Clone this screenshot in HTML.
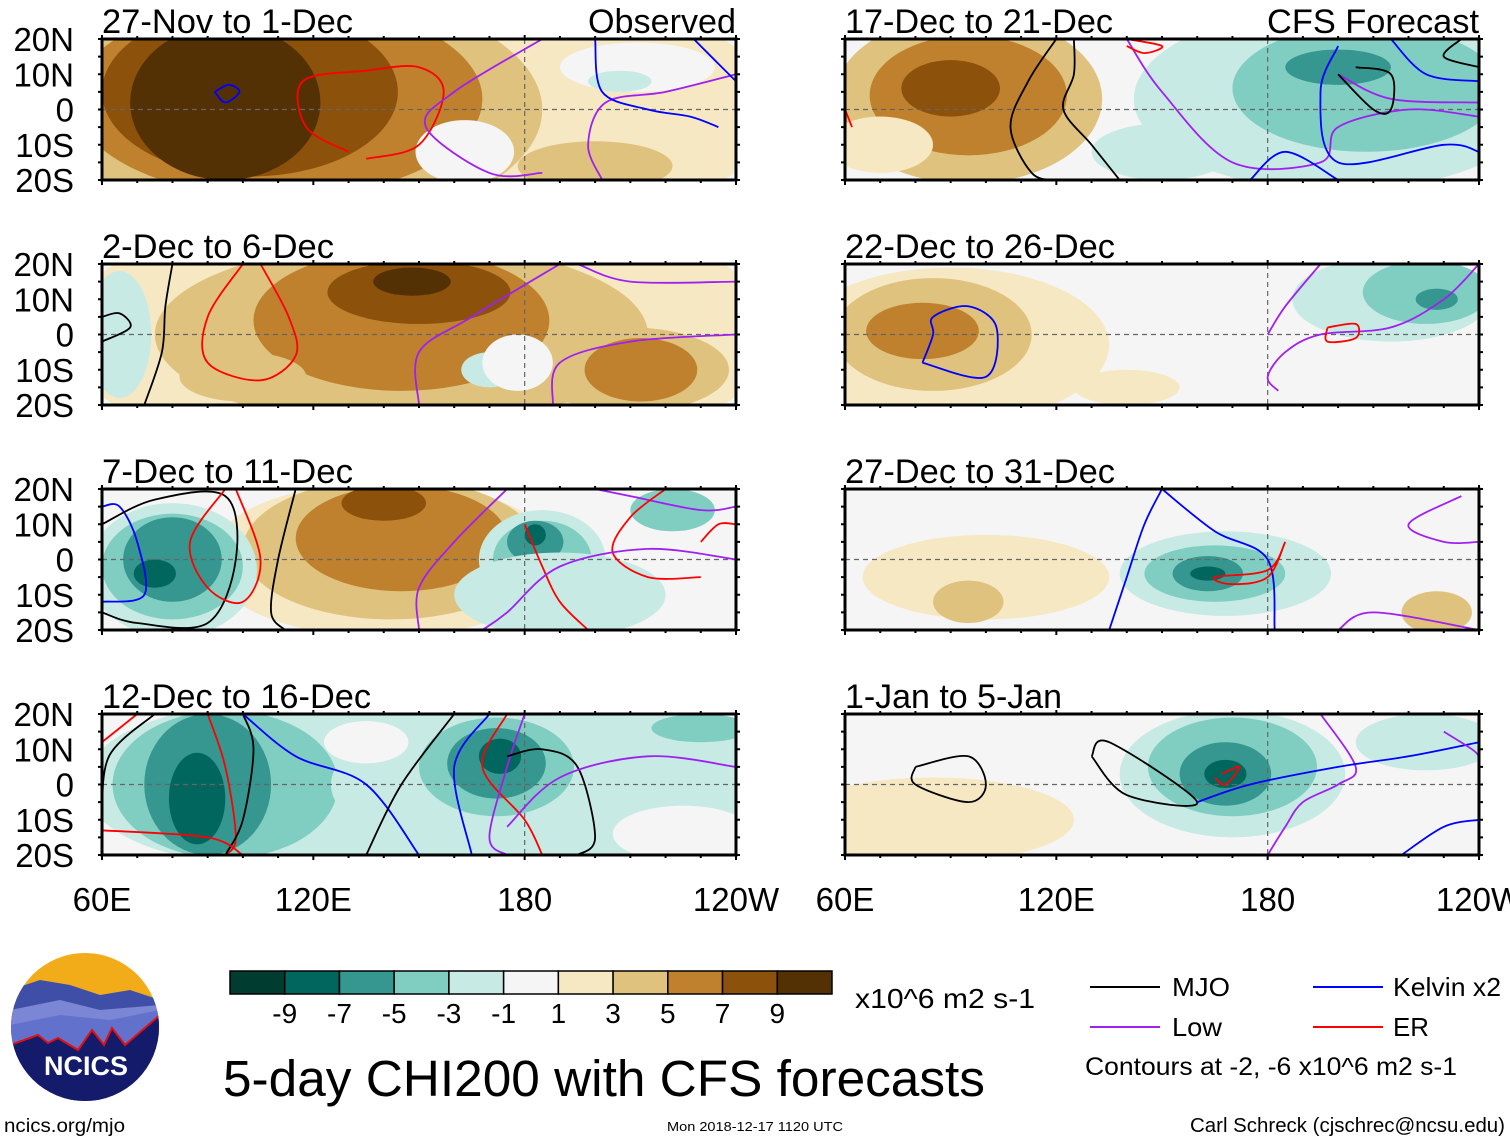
<!DOCTYPE html>
<html><head><meta charset="utf-8"><style>
html,body{margin:0;padding:0;background:#fff;}
svg{display:block;font-family:"Liberation Sans",Arial,sans-serif;}
</style></head><body>
<svg id="chart" width="1510" height="1142" viewBox="0 0 1510 1142" xmlns="http://www.w3.org/2000/svg">
<defs id="defs"></defs>
<g id="panels"></g>
<g id="colorbar"></g>
<text x="855" y="1008" font-size="28" textLength="180" lengthAdjust="spacingAndGlyphs">x10^6 m2 s-1</text>
<text x="223" y="1096" font-size="51" textLength="762" lengthAdjust="spacingAndGlyphs">5-day CHI200 with CFS forecasts</text>
<g>
<line x1="1090" y1="987" x2="1160" y2="987" stroke="#000" stroke-width="2"/>
<text x="1172" y="996" font-size="26" textLength="58" lengthAdjust="spacingAndGlyphs">MJO</text>
<line x1="1090" y1="1027" x2="1160" y2="1027" stroke="#a020f0" stroke-width="2"/>
<text x="1172" y="1036" font-size="26" textLength="50" lengthAdjust="spacingAndGlyphs">Low</text>
<line x1="1313" y1="987" x2="1383" y2="987" stroke="#0000ff" stroke-width="2"/>
<text x="1393" y="996" font-size="26" textLength="108" lengthAdjust="spacingAndGlyphs">Kelvin x2</text>
<line x1="1313" y1="1027" x2="1383" y2="1027" stroke="#ff0000" stroke-width="2"/>
<text x="1393" y="1036" font-size="26" textLength="36" lengthAdjust="spacingAndGlyphs">ER</text>
<text x="1085" y="1075" font-size="25" textLength="372" lengthAdjust="spacingAndGlyphs">Contours at -2, -6 x10^6 m2 s-1</text>
</g>
<g>
<clipPath id="logoclip"><circle cx="85" cy="1027" r="74"/></clipPath>
<g clip-path="url(#logoclip)">
<rect x="0" y="950" width="170" height="160" fill="#f2ac1a"/>
<path d="M10 990 L40 980 L70 985 L100 995 L130 990 L160 1000 L160 1110 L10 1110Z" fill="#3f4fa8"/>
<path d="M10 1010 L60 1000 L100 1010 L160 1005 L160 1110 L10 1110Z" fill="#7b86d4"/>
<path d="M10 1025 L60 1015 L110 1020 L160 1010 L160 1110 L10 1110Z" fill="#6272cc"/>
<path d="M10 1045 L38 1035 L48 1043 L58 1038 L78 1050 L92 1030 L104 1045 L112 1028 L125 1045 L160 1015 L160 1110 L10 1110Z" fill="#141b6b" stroke="#e01010" stroke-width="2"/>
</g>
<text x="86" y="1075" font-size="27" font-weight="bold" fill="#fff" text-anchor="middle">NCICS</text>
</g>
<text x="4" y="1132" font-size="19" textLength="121" lengthAdjust="spacingAndGlyphs">ncics.org/mjo</text>
<text x="667" y="1131" font-size="13" textLength="176" lengthAdjust="spacingAndGlyphs">Mon 2018-12-17 1120 UTC</text>
<text x="1190" y="1132" font-size="20" textLength="315" lengthAdjust="spacingAndGlyphs">Carl Schreck (cjschrec@ncsu.edu)</text>
</svg>
<script>
// ---------- data ----------
const levelColors = ["#003c30","#01665e","#35978f","#80cdc1","#c7eae5","#f5f5f5","#f6e8c3","#dfc27d","#bf812d","#8c510a","#543005"];
const levelLabels = ["-9","-7","-5","-3","-1","1","3","5","7","9"];
const panelTitles = ["27-Nov to 1-Dec","2-Dec to 6-Dec","7-Dec to 11-Dec","12-Dec to 16-Dec","17-Dec to 21-Dec","22-Dec to 26-Dec","27-Dec to 31-Dec","1-Jan to 5-Jan"];
const titleWidths = [251,232,251,269,268,270,270,217];
const latTicks = [20,10,0,-10,-20];
const latLabels = ["20N","10N","0","10S","20S"];
const lonTicks = [60,120,180,240];
const lonLabels = ["60E","120E","180","120W"];
// blobs: [lon, lat, halfWidthDeg, halfHeightDeg, level]
const blobs0 = [[150,0,100,40,6],[110,0,75,35,7],[110,3,58,28,8],[102,5,42,24,9],[95,2,27,22,10],[200,-16,22,7,7],[163,-12,14,9,5],[212,12,22,7,5],[207,8,9,3,4]];
const blobs1 = [[150,0,100,40,6],[145,0,70,26,7],[210,-10,28,12,7],[213,-10,16,9,8],[145,4,42,20,8],[150,12,26,9,9],[148,15,11,4,10],[65,0,9,18,4],[170,-10,8,5,4],[178,-8,10,8,5],[100,-12,18,7,7]];
const blobs2 = [[150,0,100,40,5],[140,0,50,22,6],[142,3,42,20,7],[145,6,30,15,8],[140,16,12,5,9],[80,-3,24,19,4],[80,-2,20,15,3],[80,0,14,12,2],[75,-4,6,4,1],[185,0,18,14,4],[185,0,14,11,3],[183,5,8,6,2],[183,7,3,3,1],[195,-15,14,6,3],[222,14,12,6,3],[190,-10,30,12,4]];
const blobs3 = [[150,0,100,40,5],[150,0,95,28,4],[100,0,45,22,4],[95,0,32,21,3],[90,0,18,20,2],[87,-4,8,13,1],[170,0,45,20,4],[172,5,22,14,3],[172,6,14,10,2],[173,8,6,5,1],[220,12,28,8,4],[230,16,14,4,3],[135,12,12,6,5],[225,-14,20,8,5]];
const blobs4 = [[150,0,100,40,5],[200,3,58,26,4],[208,6,38,18,3],[200,12,15,5,2],[95,3,38,24,7],[95,4,28,17,8],[90,6,14,8,9],[70,-10,15,8,6],[150,-12,20,8,4]];
const blobs5 = [[150,0,100,40,5],[90,-3,45,22,6],[85,0,28,16,7],[82,1,16,8,8],[215,10,28,12,4],[225,12,18,9,3],[228,10,6,3,2],[140,-15,15,5,6]];
const blobs6 = [[150,0,100,40,5],[100,-5,35,12,6],[168,-4,30,12,4],[165,-4,20,8,3],[163,-4,10,5,2],[163,-4,5,2,1],[228,-15,10,6,7],[95,-12,10,6,7]];
const blobs7 = [[150,0,100,40,5],[85,-10,40,12,6],[170,3,32,18,4],[170,5,24,14,3],[168,3,13,9,2],[168,3,6,4,1],[225,12,20,8,4]];
const allBlobs = [blobs0,blobs1,blobs2,blobs3,blobs4,blobs5,blobs6,blobs7];
// contour lines: [type, [[lon,lat],...]]
const lines0 = [["er",[[130,-12],[118,-5],[117,8],[135,11],[150,12],[157,5],[150,-10],[135,-14]]],["kelvin",[[92,5],[96,7],[99,5],[95,2],[92,5]]],["low",[[185,20],[160,5],[152,-5],[170,-18],[185,-18]]],["low",[[240,10],[220,5],[203,2],[198,-10],[202,-20]]],["kelvin",[[200,20],[202,5],[215,0],[227,-2],[235,-5]]],["kelvin",[[228,20],[236,12],[240,8]]]];
const lines1 = [["mjo",[[80,20],[78,8],[77,-5],[72,-20]]],["mjo",[[60,5],[65,6],[68,2],[60,-2]]],["er",[[100,20],[90,5],[90,-8],[105,-13],[115,-6],[113,5],[105,20]]],["low",[[240,15],[210,15],[195,20]]],["low",[[150,-20],[150,-5],[165,5],[190,20]]],["low",[[240,0],[210,-2],[190,-8],[188,-20]]]];
const lines2 = [["kelvin",[[60,15],[65,15],[70,5],[72,-10],[60,-12]]],["mjo",[[60,10],[75,17],[95,18],[98,0],[90,-18],[70,-18],[60,-15]]],["mjo",[[115,20],[110,0],[108,-15],[112,-20]]],["er",[[95,20],[85,5],[90,-8],[100,-12],[105,0],[98,20]]],["low",[[150,-20],[150,-8],[160,5],[175,20]]],["low",[[200,20],[210,18],[230,14],[240,15]]],["er",[[220,20],[210,12],[205,2],[215,-5],[230,-5]]],["er",[[180,10],[185,-2],[190,-12],[198,-20]]],["low",[[240,0],[215,3],[190,-2],[175,-15],[168,-20]]],["er",[[230,5],[235,10],[240,10]]]];
const lines3 = [["er",[[70,20],[60,12]]],["mjo",[[75,20],[62,8],[60,-10]]],["er",[[90,20],[95,5],[98,-15],[95,-20]]],["mjo",[[100,20],[103,10],[100,-10],[95,-20]]],["kelvin",[[100,20],[115,8],[135,0],[150,-20]]],["mjo",[[160,20],[145,0],[135,-20]]],["kelvin",[[170,20],[160,5],[165,-20]]],["er",[[175,20],[168,5],[180,-10],[185,-20]]],["low",[[180,20],[175,5],[170,-15],[175,-20]]],["mjo",[[175,8],[185,10],[195,5],[200,-15],[195,-20]]],["low",[[240,5],[215,8],[190,2],[175,-12]]],["er",[[60,-13],[90,-15],[100,-20]]]];
const lines4 = [["er",[[62,-5],[60,0]]],["mjo",[[120,20],[112,8],[107,-5],[113,-18],[120,-20]]],["mjo",[[125,20],[125,10],[122,0],[130,-10],[138,-20]]],["low",[[140,20],[150,5],[170,-15],[195,-15],[200,-5],[220,0],[240,-2]]],["low",[[200,10],[215,3],[240,2]]],["kelvin",[[200,18],[195,5],[200,-15],[230,-10],[240,-12]]],["kelvin",[[175,-20],[185,-12],[200,-20]]],["mjo",[[200,10],[210,0],[215,0],[215,10],[205,12]]],["er",[[140,20],[150,18],[145,16],[140,18]]],["kelvin",[[215,20],[225,10],[240,8]]],["mjo",[[235,20],[230,15],[240,12]]]];
const lines5 = [["kelvin",[[82,-8],[85,0],[85,5],[95,8],[103,2],[100,-12],[82,-8]]],["low",[[240,20],[230,10],[215,2],[195,0],[185,-5],[180,-12],[183,-16]]],["low",[[195,20],[185,8],[180,0]]],["er",[[197,2],[205,3],[205,-1],[197,-2],[197,2]]]];
const lines6 = [["kelvin",[[150,20],[145,10],[140,-5],[135,-20]]],["kelvin",[[150,20],[165,8],[180,0],[182,-20]]],["er",[[185,5],[180,-5],[170,-7],[165,-5],[180,-3],[185,5]]],["low",[[240,5],[230,5],[220,10],[235,18]]],["low",[[240,-20],[210,-15],[200,-20]]]];
const lines7 = [["mjo",[[80,5],[95,8],[100,0],[95,-5],[80,0],[80,5]]],["mjo",[[130,8],[135,12],[160,-5],[140,-3],[130,8]]],["er",[[167,3],[172,5],[168,0],[165,2]]],["low",[[180,-20],[185,-12],[190,-5],[200,0],[205,5],[195,20]]],["kelvin",[[160,-5],[175,0],[200,5],[220,8],[240,12]]],["low",[[230,15],[238,10],[240,8]]],["kelvin",[[218,-20],[230,-12],[240,-10]]]];
const allLines = [lines0,lines1,lines2,lines3,lines4,lines5,lines6,lines7];
const lineColors = {mjo:"#000000",low:"#a020f0",kelvin:"#0000ff",er:"#ff0000"};

// ---------- layout ----------
const NS = "http://www.w3.org/2000/svg";
const PW = 634, PH = 141;
const colX = [102, 845];
const rowY = [39, 264, 489, 714];
function el(tag, attrs, parent){ const e=document.createElementNS(NS,tag); for(const k in attrs) e.setAttribute(k,attrs[k]); if(parent) parent.appendChild(e); return e; }
function xScale(lon, x0){ return x0 + (lon-60)/180*PW; }
function yScale(lat, y0){ return y0 + (20-lat)/40*PH; }
function smoothPath(pts){
  let d = "M"+pts[0][0].toFixed(1)+" "+pts[0][1].toFixed(1);
  for(let i=0;i<pts.length-1;i++){
    const p0=pts[Math.max(0,i-1)], p1=pts[i], p2=pts[i+1], p3=pts[Math.min(pts.length-1,i+2)];
    const c1=[p1[0]+(p2[0]-p0[0])/6, p1[1]+(p2[1]-p0[1])/6];
    const c2=[p2[0]-(p3[0]-p1[0])/6, p2[1]-(p3[1]-p1[1])/6];
    d += " C"+c1[0].toFixed(1)+" "+c1[1].toFixed(1)+" "+c2[0].toFixed(1)+" "+c2[1].toFixed(1)+" "+p2[0].toFixed(1)+" "+p2[1].toFixed(1);
  }
  return d;
}
const defs = document.getElementById("defs");
const panelsG = document.getElementById("panels");
for(let p=0;p<8;p++){
  const x0 = colX[p<4?0:1], y0 = rowY[p%4];
  const g = el("g",{},panelsG);
  
  
  const cp = el("clipPath",{id:"clip"+p},defs);
  el("rect",{x:x0,y:y0,width:PW,height:PH},cp);
  const fill = el("g",{"clip-path":"url(#clip"+p+")"},g);
  
  
  el("rect",{x:x0,y:y0,width:PW,height:PH,fill:levelColors[5]},fill);
  allBlobs[p].forEach(b=>{
    const cx=xScale(b[0],x0), cy=yScale(b[1],y0);
    const rx=b[2]/180*PW, ry=b[3]/40*PH;
    const e=el("ellipse",{cx:cx,cy:cy,rx:rx,ry:ry,fill:levelColors[b[4]]},fill);
    
    
  });
  const eq=el("line",{x1:x0,x2:x0+PW,y1:yScale(0,y0),y2:yScale(0,y0),stroke:"#666","stroke-dasharray":"5,4","stroke-width":1.2},g);
  
  
  const dl=el("line",{x1:xScale(180,x0),x2:xScale(180,x0),y1:y0,y2:y0+PH,stroke:"#666","stroke-dasharray":"5,4","stroke-width":1.2},g);
  
  
  const lg = el("g",{"clip-path":"url(#clip"+p+")"},g);
  allLines[p].forEach(l=>{
    const pts=l[1].map(q=>[xScale(q[0],x0),yScale(q[1],y0)]);
    const path=el("path",{d:smoothPath(pts),fill:"none",stroke:lineColors[l[0]],"stroke-width":1.8},lg);
    
    
  });
  const fr=el("rect",{x:x0,y:y0,width:PW,height:PH,fill:"none",stroke:"#000","stroke-width":3},g);
  
  
  for(let lon=60;lon<=240;lon+=10){
    const x=xScale(lon,x0), big=(lon%60===0);
    el("line",{x1:x,x2:x,y1:y0-(big?4:3),y2:y0,stroke:"#000","stroke-width":2},g);
    el("line",{x1:x,x2:x,y1:y0+PH,y2:y0+PH+(big?5:3),stroke:"#000","stroke-width":2},g);
  }
  for(let lat=-20;lat<=20;lat+=5){
    const y=yScale(lat,y0);
    el("line",{x1:x0-4,x2:x0,y1:y,y2:y,stroke:"#000","stroke-width":2},g);
    el("line",{x1:x0+PW,x2:x0+PW+4,y1:y,y2:y,stroke:"#000","stroke-width":2},g);
  }
  const t=el("text",{x:x0,y:y0-6,"font-size":34,textLength:titleWidths[p],lengthAdjust:"spacingAndGlyphs"},g);
  t.textContent=panelTitles[p];
  
  
  if(p===0||p===4){
    const tw = p===0?148:212;
    const tr=el("text",{x:x0+PW-tw,y:y0-6,"font-size":34,textLength:tw,lengthAdjust:"spacingAndGlyphs"},g);
    tr.textContent = p===0?"Observed":"CFS Forecast";
    
    
  }
  if(p<4){
    latTicks.forEach((lat,i)=>{
      const lt=el("text",{x:74,y:yScale(lat,y0)+12,"font-size":33,"text-anchor":"end"},g);
      lt.textContent=latLabels[i];
      
      
    });
  }
  if(p%4===3){
    lonTicks.forEach((lon,i)=>{
      const lt=el("text",{x:xScale(lon,x0),y:911,"font-size":33,"text-anchor":"middle"},g);
      lt.textContent=lonLabels[i];
      
      
    });
  }
}
const cb=document.getElementById("colorbar");
const cbX=230, cbW=602, cbY=971, cbH=23, bw=cbW/levelColors.length;
levelColors.forEach((c,i)=>{
  const r=el("rect",{x:cbX+i*bw,y:cbY,width:bw,height:cbH,fill:c,stroke:"#000","stroke-width":1.5},cb);
  
  
});
levelLabels.forEach((l,i)=>{
  const t=el("text",{x:cbX+(i+1)*bw,y:1023,"font-size":28,"text-anchor":"middle"},cb);
  t.textContent=l;
  
  
});
</script>
</body></html>
